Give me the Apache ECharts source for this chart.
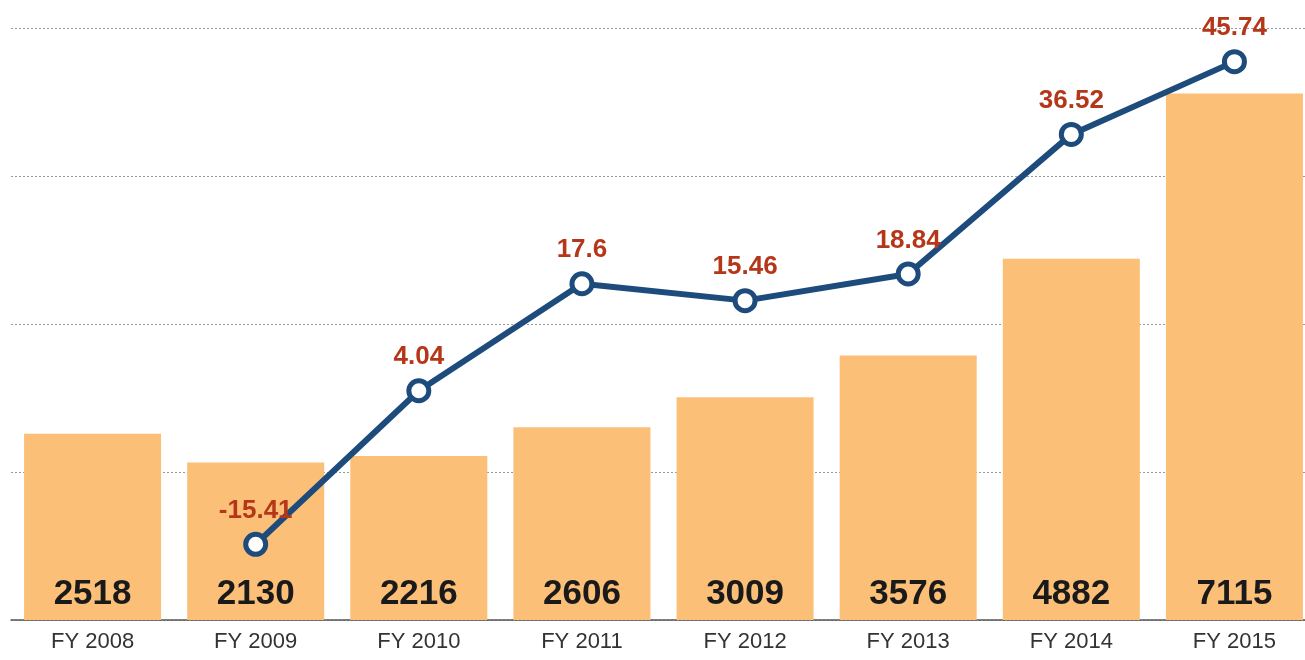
<!DOCTYPE html>
<html>
<head>
<meta charset="utf-8">
<script src="https://cdn.jsdelivr.net/npm/echarts@6/dist/echarts.min.js"></script>
<style>
html,body{margin:0;padding:0;background:#fff;overflow:hidden;width:1305px;height:660px;}
#chart{width:1320px;height:660px;}
</style>
</head>
<body>
<div id="chart"></div>
<script>
const categories = ['FY 2008','FY 2009','FY 2010','FY 2011','FY 2012','FY 2013','FY 2014','FY 2015'];
const barValues = [2518, 2130, 2216, 2606, 3009, 3576, 4882, 7115];
const lineValues = [null, -15.41, 4.04, 17.6, 15.46, 18.84, 36.52, 45.74];

const chart = echarts.init(document.getElementById('chart'));
chart.setOption({
  animation: false,
  backgroundColor: '#ffffff',
  grid: { left: 11, top: 28, width: 1305, height: 592, containLabel: false },
  xAxis: {
    type: 'category',
    data: categories,
    axisLine: { show: true, lineStyle: { color: '#555', width: 1.5 } },
    axisTick: { show: false },
    axisLabel: { color: '#333', fontSize: 22, fontFamily: 'Liberation Sans, Arial, sans-serif', margin: 11 }
  },
  yAxis: [
    {
      type: 'value', min: 0, max: 8000, interval: 2000,
      axisLabel: { show: false }, axisLine: { show: false }, axisTick: { show: false },
      splitLine: { show: true, lineStyle: { color: '#9a9a9a', type: [2, 2], width: 1 } }
    },
    {
      type: 'value', min: -25, max: 50, interval: 25,
      axisLabel: { show: false }, axisLine: { show: false }, axisTick: { show: false },
      splitLine: { show: false }
    }
  ],
  series: [
    {
      type: 'bar',
      data: barValues,
      barCategoryGap: '16%',
      itemStyle: { color: '#fcbf78' },
      label: {
        show: true, position: 'insideBottom', distance: 8,
        color: '#1a1a1a', fontSize: 35, fontWeight: 'bold',
        fontFamily: 'Liberation Sans, Arial, sans-serif'
      },
      z: 1
    },
    {
      type: 'line',
      yAxisIndex: 1,
      data: lineValues,
      lineStyle: { color: '#1d4c7c', width: 6 },
      itemStyle: { color: '#ffffff', borderColor: '#1d4c7c', borderWidth: 5 },
      symbol: 'circle',
      symbolSize: 20,
      label: {
        show: true, position: 'top', distance: 8,
        color: '#b5371a', fontSize: 26, fontWeight: 'bold',
        fontFamily: 'Liberation Sans, Arial, sans-serif'
      },
      z: 3
    }
  ]
});
</script>
</body>
</html>
